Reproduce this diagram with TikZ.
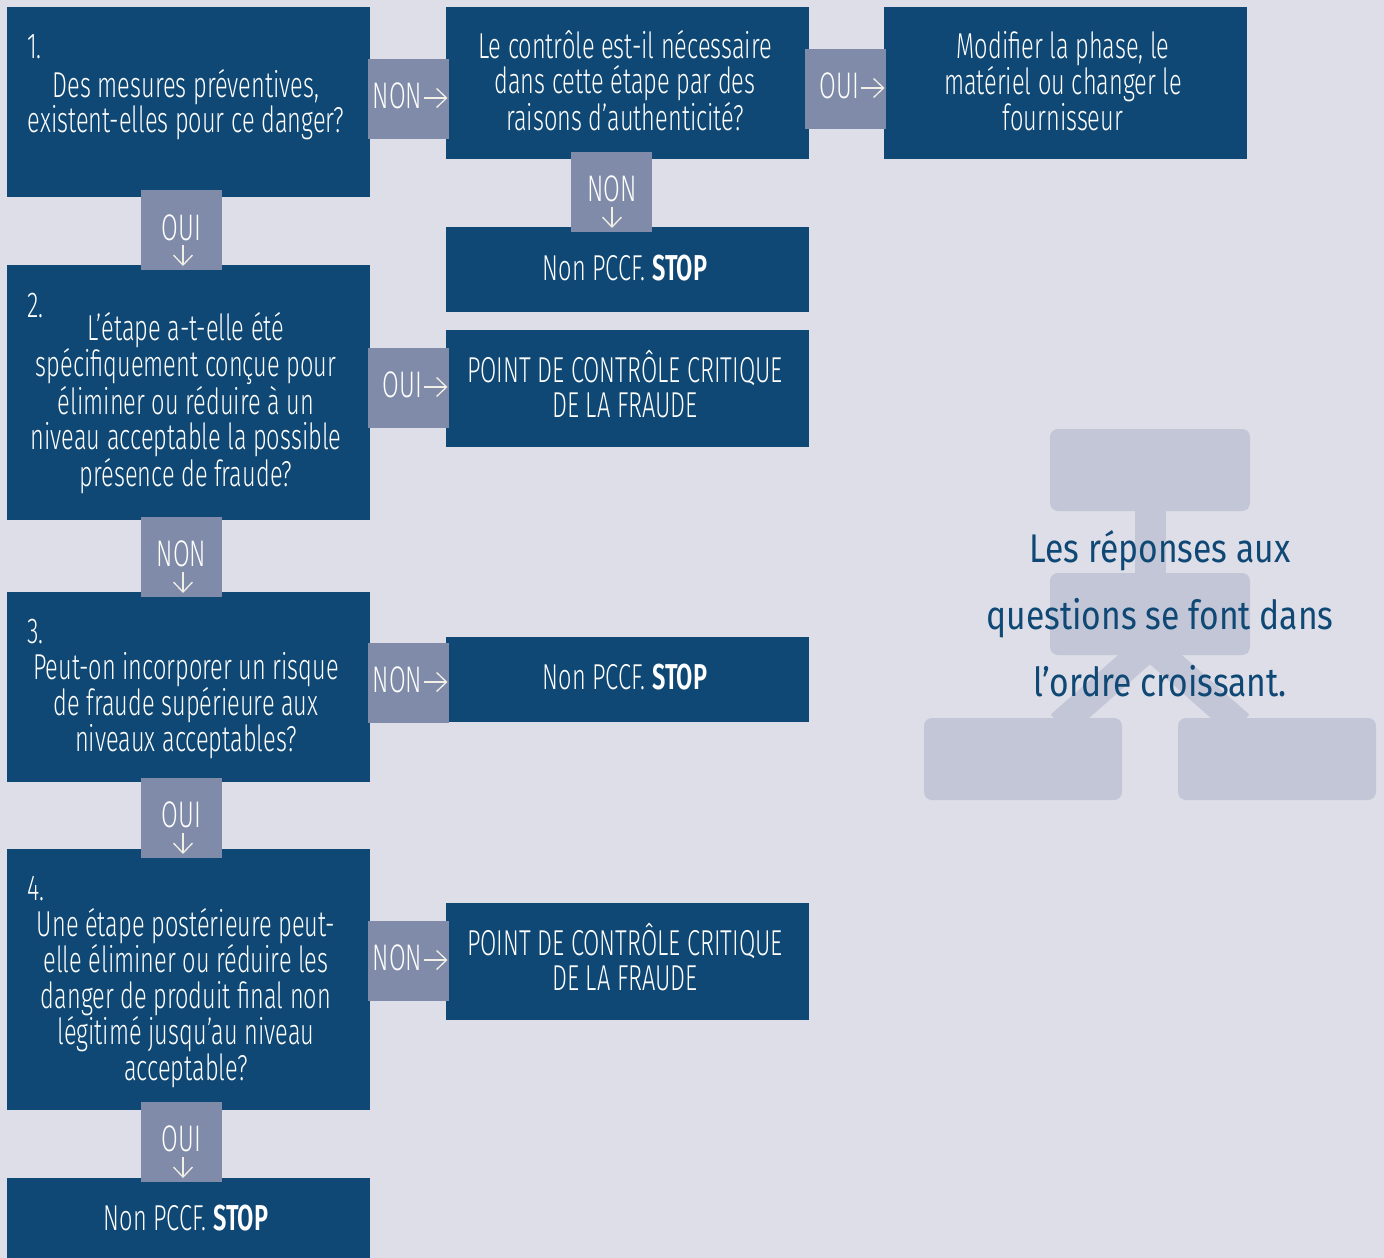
\documentclass[tikz,border=0pt]{standalone}
\usepackage{fontspec}
\setmainfont{Fira Sans}[UprightFont=* Light, BoldFont=* SemiBold, FakeStretch=0.655]
\newfontfamily\regfont{Fira Sans}[FakeStretch=0.84]
\usetikzlibrary{arrows.meta}
\definecolor{bg}{HTML}{DEDEE8}
\definecolor{dk}{HTML}{0F4874}
\definecolor{lb}{HTML}{7F8BA8}
\definecolor{dc}{HTML}{C2C6D6}
\definecolor{ar}{HTML}{F2F0E6}
\newcommand\hb{\rule{0pt}{34pt}}
\newcommand\boxfont{\fontsize{36}{35.5}\selectfont}
\newcommand\labfont{\fontsize{37}{37}\selectfont}
\begin{document}
\begin{tikzpicture}[x=1pt,y=-1pt,
  box/.style={fill=dk, draw=none, inner sep=0pt, anchor=north west, minimum width=363pt},
  lab/.style={fill=lb, draw=none, inner sep=0pt, minimum width=81pt, minimum height=80pt},
  txt/.style={text=white, inner sep=0pt, align=center, anchor=north, font=\boxfont},
  num/.style={text=white, inner sep=0pt, anchor=base west, font=\boxfont},
  labt/.style={text=white, inner sep=0pt, font=\labfont},
  arr/.style={draw=ar, line width=1.3pt, -{Straight Barb[length=10pt,width=19pt,line width=1.3pt]}},
  deco/.style={fill=dc, rounded corners=8pt}]
\fill[bg] (0,0) rectangle (1384,1258);
\useasboundingbox (0,0) rectangle (1384,1258);
% decorative background diagram
\draw[dc, line width=28pt] (1145,650) -- (1060,725);
\draw[dc, line width=28pt] (1155,650) -- (1240,725);
\fill[dc] (1135,505) rectangle (1166,580);
\fill[deco] (1050,429) rectangle (1250,511);
\fill[deco] (1050,573) rectangle (1250,655);
\fill[deco] (924,718) rectangle (1122,800);
\fill[deco] (1178,718) rectangle (1376,800);
\node[text=dk, inner sep=0pt, align=center, anchor=north, font={\regfont\fontsize{40}{67}\selectfont}] (note) at (1160,526)
  {\rule{0pt}{36pt}Les réponses aux\\questions se font dans\\l’ordre croissant.};
% main boxes
\node[box, minimum height=190pt] (q1) at (7,7) {};
\node[box, minimum height=255pt] (q2) at (7,265) {};
\node[box, minimum height=190pt] (q3) at (7,592) {};
\node[box, minimum height=261pt] (q4) at (7,849) {};
\node[box, minimum height=90pt] (s4) at (7,1178) {};
\node[box, minimum height=152pt] (qa) at (446,7) {};
\node[box, minimum height=152pt] (mb) at (884,7) {};
\node[box, minimum height=85pt] (sa) at (446,227) {};
\node[box, minimum height=117pt] (p2) at (446,330) {};
\node[box, minimum height=85pt] (s3) at (446,637) {};
\node[box, minimum height=117pt] (p4) at (446,903) {};
% texts
\node[num] (q1n) at (27,58) {1.};
\node[txt] (q1t) at (186,63) {\hb Des mesures préventives,\\existent-elles pour ce danger?};
\node[num] (q2n) at (27,317) {2.};
\node[txt] (q2t) at (186,306) {\hb L’étape a-t-elle été\\spécifiquement conçue pour\\éliminer ou réduire à un\\niveau acceptable la possible\\présence de fraude?};
\node[num] (q3n) at (27,643) {3.};
\node[txt] (q3t) at (186,645) {\hb Peut-on incorporer un risque\\de fraude supérieure aux\\niveaux acceptables?};
\node[num] (q4n) at (27,900) {4.};
\node[txt] (q4t) at (186,902) {\hb Une étape postérieure peut-\\elle éliminer ou réduire les\\danger de produit final non\\légitimé jusqu’au niveau\\acceptable?};
\node[txt] (s4t) at (186,1196) {\hb Non PCCF. \textbf{STOP}};
\node[txt] (qat) at (625,24) {\hb Le contrôle est-il nécessaire\\dans cette étape par des\\raisons d’authenticité?};
\node[txt] (mbt) at (1063,24) {\hb Modifier la phase, le\\matériel ou changer le\\fournisseur};
\node[txt] (sat) at (625,246) {\hb Non PCCF. \textbf{STOP}};
\node[txt] (p2t) at (625,348) {\hb POINT DE CONTRÔLE CRITIQUE\\DE LA FRAUDE};
\node[txt] (s3t) at (625,655) {\hb Non PCCF. \textbf{STOP}};
\node[txt] (p4t) at (625,921) {\hb POINT DE CONTRÔLE CRITIQUE\\DE LA FRAUDE};
% connector labels
\node[lab] (c1) at (408.5,99) {};
\node[labt, anchor=base east] (c1t) at (422.5,108) {NON};
\draw[arr] (c1.center) ++(15,-1) -- ++(24,0);
\node[lab] (ca) at (845.5,89) {};
\node[labt, anchor=base east] (cat) at (859.5,98) {OUI};
\draw[arr] (ca.center) ++(15,-1) -- ++(24,0);
\node[lab] (cb) at (611.5,192) {};
\node[labt, anchor=base] (cbt) at (612,201) {NON};
\draw[arr] (cb.center) ++(0.5,15) -- ++(0,21);
\node[lab] (d1) at (181.5,230) {};
\node[labt, anchor=base] (d1t) at (181.5,240) {OUI};
\draw[arr] (d1.center) ++(1.5,15) -- ++(0,21);
\node[lab] (c2) at (408.5,388) {};
\node[labt, anchor=base east] (c2t) at (422.5,397) {OUI};
\draw[arr] (c2.center) ++(15,-1) -- ++(24,0);
\node[lab] (d2) at (181.5,557) {};
\node[labt, anchor=base] (d2t) at (181.5,566) {NON};
\draw[arr] (d2.center) ++(1.5,15) -- ++(0,21);
\node[lab] (c3) at (408.5,683) {};
\node[labt, anchor=base east] (c3t) at (422.5,692) {NON};
\draw[arr] (c3.center) ++(15,-1) -- ++(24,0);
\node[lab] (d3) at (181.5,818) {};
\node[labt, anchor=base] (d3t) at (181.5,827) {OUI};
\draw[arr] (d3.center) ++(1.5,15) -- ++(0,21);
\node[lab] (c4) at (408.5,961) {};
\node[labt, anchor=base east] (c4t) at (422.5,970) {NON};
\draw[arr] (c4.center) ++(15,-1) -- ++(24,0);
\node[lab] (d4) at (181.5,1142) {};
\node[labt, anchor=base] (d4t) at (181.5,1151) {OUI};
\draw[arr] (d4.center) ++(1.5,15) -- ++(0,21);
\end{tikzpicture}
\end{document}
